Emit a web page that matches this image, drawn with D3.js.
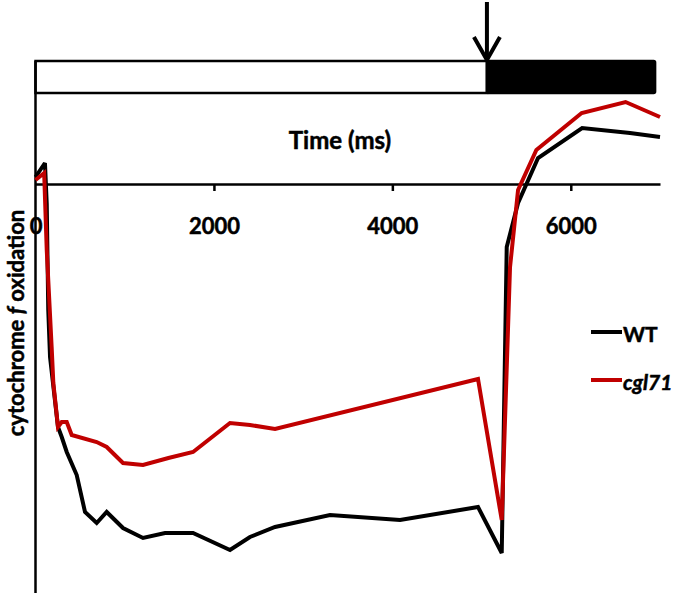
<!DOCTYPE html>
<html><head><meta charset="utf-8">
<script src="https://cdn.jsdelivr.net/npm/d3@7"></script>
<style>body{margin:0;background:#fff}svg{display:block}text{font-family:Lato,"Open Sans",sans-serif;font-weight:bold;stroke:#000;stroke-width:0.5px;fill:#000}</style>
</head><body><svg id="c" width="677" height="599"></svg>
<script>
// ---- data ----
const wtTime  = [0,106,126,143,163,196,252,294,350,462,555,686,798,981,1205,1452,1766,2180,2404,2685,3301,4086,4960,5226,5282,5409,5633,6127,6664,7000];
const wtValue = [0.07,0.21,-0.2,-1.26,-1.73,-1.99,-2.43,-2.53,-2.68,-2.91,-3.28,-3.39,-3.28,-3.44,-3.54,-3.49,-3.49,-3.66,-3.53,-3.43,-3.31,-3.36,-3.23,-3.69,-0.63,-0.19,0.26,0.56,0.51,0.47];
const cgTime  = [0,97,126,181,200,252,294,350,406,686,798,981,1205,1490,1766,2180,2404,2685,4960,5226,5319,5409,5614,6122,6614,7000];
const cgValue = [0.04,0.11,-0.66,-1.63,-1.99,-2.43,-2.38,-2.38,-2.51,-2.58,-2.63,-2.79,-2.81,-2.74,-2.68,-2.39,-2.41,-2.45,-1.95,-3.36,-0.83,-0.06,0.34,0.71,0.82,0.67];
const xTicks = [0,2000,4000,6000];
const seriesNames = ["WT","cgl71"];
const seriesColors = ["#000000","#c00000"];
const phaseStart = [0,5060];
const phaseEnd = [5060,6945];
const phaseFill = ["#ffffff","#000000"];
const arrowTime = 5060;

// ---- chart ----
const svg = d3.select("#c");
const x = d3.scaleLinear().domain([0,7000]).range([35.5,660]);
const y = d3.scaleLinear().domain([-4.09,1.24]).range([593,60]);

// light/dark bar
const barTop = 61, barBot = 93;
svg.selectAll("rect.phase").data(phaseStart).enter().append("rect")
  .attr("x",(d,i)=>x(d)).attr("y",barTop)
  .attr("width",(d,i)=>x(phaseEnd[i])-x(d)).attr("height",barBot-barTop)
  .attr("fill",(d,i)=>phaseFill[i]).attr("stroke","#000").attr("stroke-width",2.5)
  .attr("rx",(d,i)=>i?1.5:0);

// arrow
const ax = x(arrowTime);
svg.append("line").attr("x1",ax).attr("x2",ax).attr("y1",2).attr("y2",barTop-1)
  .attr("stroke","#000").attr("stroke-width",4);
svg.append("path").attr("d",`M${ax-13},37 L${ax},${barTop-1} L${ax+13},37`)
  .attr("fill","none").attr("stroke","#000").attr("stroke-width",4).attr("stroke-linejoin","miter");

// y axis line
svg.append("line").attr("x1",x(0)).attr("x2",x(0)).attr("y1",barTop).attr("y2",593)
  .attr("stroke","#000").attr("stroke-width",2.5);

// x axis
const xAxis = d3.axisBottom(x).tickValues(xTicks).tickSize(7).tickSizeOuter(0).tickPadding(27).tickFormat(d3.format("d"));
const gx = svg.append("g").attr("transform",`translate(0,${y(0)})`).call(xAxis);
gx.select(".domain").attr("stroke","#000").attr("stroke-width",2.5);
gx.selectAll(".tick line").attr("stroke","#000").attr("stroke-width",2.5)
  .attr("display",d=>d===0?"none":null);
gx.selectAll(".tick text").attr("font-size",22).attr("fill","#000")
  .style("font-family","Lato, sans-serif").style("font-weight","bold");

// axis titles
svg.append("text").attr("x",340).attr("y",149).attr("text-anchor","middle")
  .attr("font-size",24).text("Time (ms)");
const yl = svg.append("text").attr("transform","translate(24,323) rotate(-90)")
  .attr("text-anchor","middle").attr("font-size",22);
yl.append("tspan").text("cytochrome ");
yl.append("tspan").attr("font-style","italic").text("f");
yl.append("tspan").text(" oxidation");

// lines
const line = d3.line().x(d=>x(d[0])).y(d=>y(d[1]));
const series = [d3.zip(wtTime,wtValue), d3.zip(cgTime,cgValue)];
svg.selectAll("path.s").data(series).enter().append("path")
  .attr("d",line).attr("fill","none")
  .attr("stroke",(d,i)=>seriesColors[i]).attr("stroke-width",4)
  .attr("stroke-linejoin","miter").attr("stroke-miterlimit",3);

// legend
const lg = svg.append("g");
seriesNames.forEach((n,i)=>{
  const ly = 332 + i*48;
  lg.append("line").attr("x1",591).attr("x2",622).attr("y1",ly).attr("y2",ly)
    .attr("stroke",seriesColors[i]).attr("stroke-width",4);
  lg.append("text").attr("x",623).attr("y",ly+10).attr("font-size",21)
    .attr("font-style",i?"italic":"normal").text(n);
});
</script></body></html>
